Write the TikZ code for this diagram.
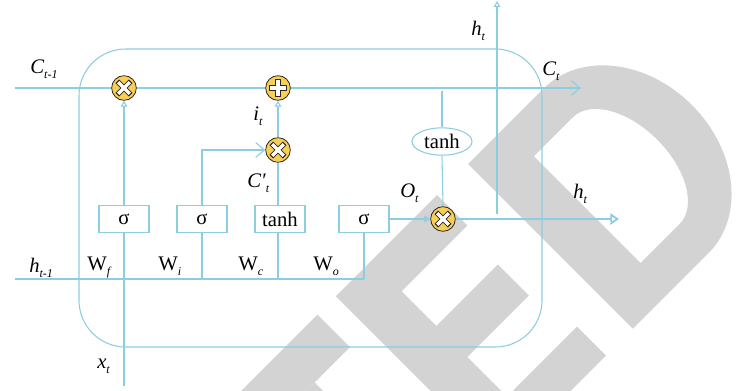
\documentclass[tikz,border=0pt]{standalone}
\usepackage{fontspec}
\setmainfont{Liberation Serif}
\usetikzlibrary{arrows.meta,shapes.geometric}
\pgfdeclarelayer{watermark}
\pgfdeclarelayer{wires}
\pgfsetlayers{watermark,wires,main}

\definecolor{wire}{RGB}{140,205,224}
\definecolor{opfill}{RGB}{248,206,84}
\definecolor{opline}{RGB}{45,40,35}
\definecolor{wmark}{RGB}{211,211,211}

% symbol with a lowered italic index
\newcommand{\lbsub}[2]{#1\raisebox{-3.8pt}{\fontsize{9}{9}\selectfont\itshape #2}}

\tikzset{
  wireline/.style={draw=wire, line width=0.8pt},
  thickwire/.style={draw=wire, line width=1.4pt},
  gatebox/.style={draw=wire, line width=0.8pt, fill=white, minimum width=37.5pt,
    minimum height=20.25pt, inner sep=0pt, font=\fontsize{15.5}{15.5}\selectfont},
  actoval/.style={ellipse, draw=wire, line width=0.8pt, fill=white, minimum width=45pt,
    minimum height=20.5pt, inner sep=0pt, font=\fontsize{15.5}{15.5}\selectfont},
  lbl/.style={inner sep=0pt, anchor=base west, font=\fontsize{15.5}{15.5}\selectfont},
  opbase/.style={circle, minimum size=18.5pt, inner sep=0pt, fill=opfill, draw=opline, line width=0.6pt},
  mulop/.style={opbase, path picture={
    \draw[opline, line width=3.9pt]
      ([shift={(-5pt,-5pt)}]path picture bounding box.center) -- ([shift={(5pt,5pt)}]path picture bounding box.center)
      ([shift={(-5pt,5pt)}]path picture bounding box.center) -- ([shift={(5pt,-5pt)}]path picture bounding box.center);
    \draw[white, line width=2.5pt]
      ([shift={(-4.4pt,-4.4pt)}]path picture bounding box.center) -- ([shift={(4.4pt,4.4pt)}]path picture bounding box.center)
      ([shift={(-4.4pt,4.4pt)}]path picture bounding box.center) -- ([shift={(4.4pt,-4.4pt)}]path picture bounding box.center);
  }},
  addop/.style={opbase, path picture={
    \draw[opline, line width=4.1pt]
      ([shift={(-6.4pt,0pt)}]path picture bounding box.center) -- ([shift={(6.4pt,0pt)}]path picture bounding box.center)
      ([shift={(0pt,-6.4pt)}]path picture bounding box.center) -- ([shift={(0pt,6.4pt)}]path picture bounding box.center);
    \draw[white, line width=2.6pt]
      ([shift={(-5.7pt,0pt)}]path picture bounding box.center) -- ([shift={(5.7pt,0pt)}]path picture bounding box.center)
      ([shift={(0pt,-5.7pt)}]path picture bounding box.center) -- ([shift={(0pt,5.7pt)}]path picture bounding box.center);
  }},
  smalltip/.style={-{Triangle[open, length=4.5pt, width=5pt]}},
  bigtip/.style={-{Triangle[open, length=6.5pt, width=8.5pt]}},
  barbtip/.style={-{Straight Barb[length=6.5pt, width=11pt]}},
}

\begin{document}
\begin{tikzpicture}[x=0.75pt, y=-0.75pt]
\useasboundingbox (0,0) rectangle (739,390);

% ---------- diagonal watermark letters ----------
\begin{pgfonlayer}{watermark}
\begin{scope}
\clip (0,0) rectangle (739,390);
\begin{scope}[shift={(480.83,480.83)}]
\begin{scope}[x={(0.53033pt,0.53033pt)}, y={(-0.53033pt,0.53033pt)}]
  % T
  \fill[wmark] (-148,187) -- (2,187) -- (2,233) -- (-148,233) -- cycle;
  \fill[wmark] (-98,0) -- (-48,0) -- (-48,187) -- (-98,187) -- cycle;
  % E
  \fill[wmark] (28,0) -- (177,0) -- (177,41) -- (78,41) -- (78,97) -- (165,97) -- (165,141)
    -- (78,141) -- (78,190) -- (171,190) -- (171,233) -- (28,233) -- cycle;
  % D
  \fill[wmark, even odd rule] (215,0) -- (215,233) -- (322,233)
      .. controls (373.4,233) and (415,180.8) .. (415,116.5)
      .. controls (415,52.2) and (373.4,0) .. (322,0) -- cycle
    (267,41) -- (267,192) -- (322,192)
      .. controls (346.3,192) and (366,158.2) .. (366,116.5)
      .. controls (366,74.8) and (346.3,41) .. (322,41) -- cycle;
\end{scope}
\end{scope}
\end{scope}
\end{pgfonlayer}

% ---------- cell outline ----------
\draw[wire, line width=0.8pt, rounded corners=35pt] (79,49) rectangle (542,347);

% ---------- operators ----------
\node[mulop] (mulf) at (124,88) {};
\node[addop] (addc) at (278,88) {};
\node[mulop] (muli) at (278,150) {};
\node[mulop] (mulo) at (443,219) {};

% ---------- gate layers ----------
\node[gatebox] (boxf) at (124,219) {σ};
\node[gatebox] (boxi) at (202,219) {σ};
\node[gatebox] (boxc) at (280,219) {tanh};
\node[gatebox] (boxo) at (364,219) {σ};
\node[actoval] (tanhc) at (442,141.5) {tanh};

% ---------- free wire ends ----------
\coordinate (cin) at (15,88);
\coordinate (cout) at (581,88);
\coordinate (hin) at (15,279);
\coordinate (hend) at (364,279);
\coordinate (xin) at (124,386);
\coordinate (ctap) at (442,91);
\coordinate (hright) at (619,219);
\coordinate (hupbase) at (497,214);
\coordinate (huptip) at (497,1);

% ---------- connectors ----------
\begin{pgfonlayer}{wires}
\draw[wireline, barbtip] (cin) -- (cout);
\draw[wireline, smalltip] (boxf.north) -- (mulf.south);
\draw[wireline, barbtip] (boxi.north) |- (muli.west);
\draw[wireline] (muli.south |- boxc.north) -- (muli.south);
\draw[wireline, smalltip] (muli.north) -- (addc.south);
\draw[wireline] (xin) -- (boxf.south);
\draw[wireline] (hin) -- (hend);
\draw[wireline] (boxi.south) -- (boxi.south |- hin);
\draw[wireline] (boxc.south -| muli.south) -- (muli.south |- hin);
\draw[wireline] (boxo.south) -- (hend);
\draw[thickwire, smalltip] (boxo.east) -- (mulo.west);
\draw[wireline] (ctap) -- (tanhc.north);
\draw[wireline] (tanhc.south) -- (mulo.north);
\draw[thickwire, bigtip] (mulo.east) -- (hright);
\draw[wireline, smalltip] (hupbase) -- (huptip);
\end{pgfonlayer}

% ---------- labels ----------
\node[lbl] (lcprev) at (30,73) {\lbsub{\textit{C}}{t-1}};
\node[lbl] (lhprev) at (29,272) {\lbsub{\textit{h}}{t-1}};
\node[lbl] (lwf) at (87,270) {\lbsub{W}{f}};
\node[lbl] (lwi) at (158,270) {\lbsub{W}{i}};
\node[lbl] (lwc) at (238,270) {\lbsub{W}{c}};
\node[lbl] (lwo) at (313,270) {\lbsub{W}{o}};
\node[lbl] (lit) at (253,120) {\lbsub{\textit{i}}{t}};
\node[lbl] (lcand) at (247,187) {\textit{C′}\raisebox{-3.8pt}{\fontsize{9}{9}\selectfont\itshape t}};
\node[lbl] (lot) at (400,197) {\lbsub{\textit{O}}{t}};
\node[lbl] (lhtop) at (471,35) {\lbsub{\textit{h}}{t}};
\node[lbl] (lct) at (542,75) {\lbsub{\textit{C}}{t}};
\node[lbl] (lhout) at (573,198) {\lbsub{\textit{h}}{t}};
\node[lbl] (lxt) at (97,368) {\lbsub{\textit{x}}{t}};
\end{tikzpicture}
\end{document}
